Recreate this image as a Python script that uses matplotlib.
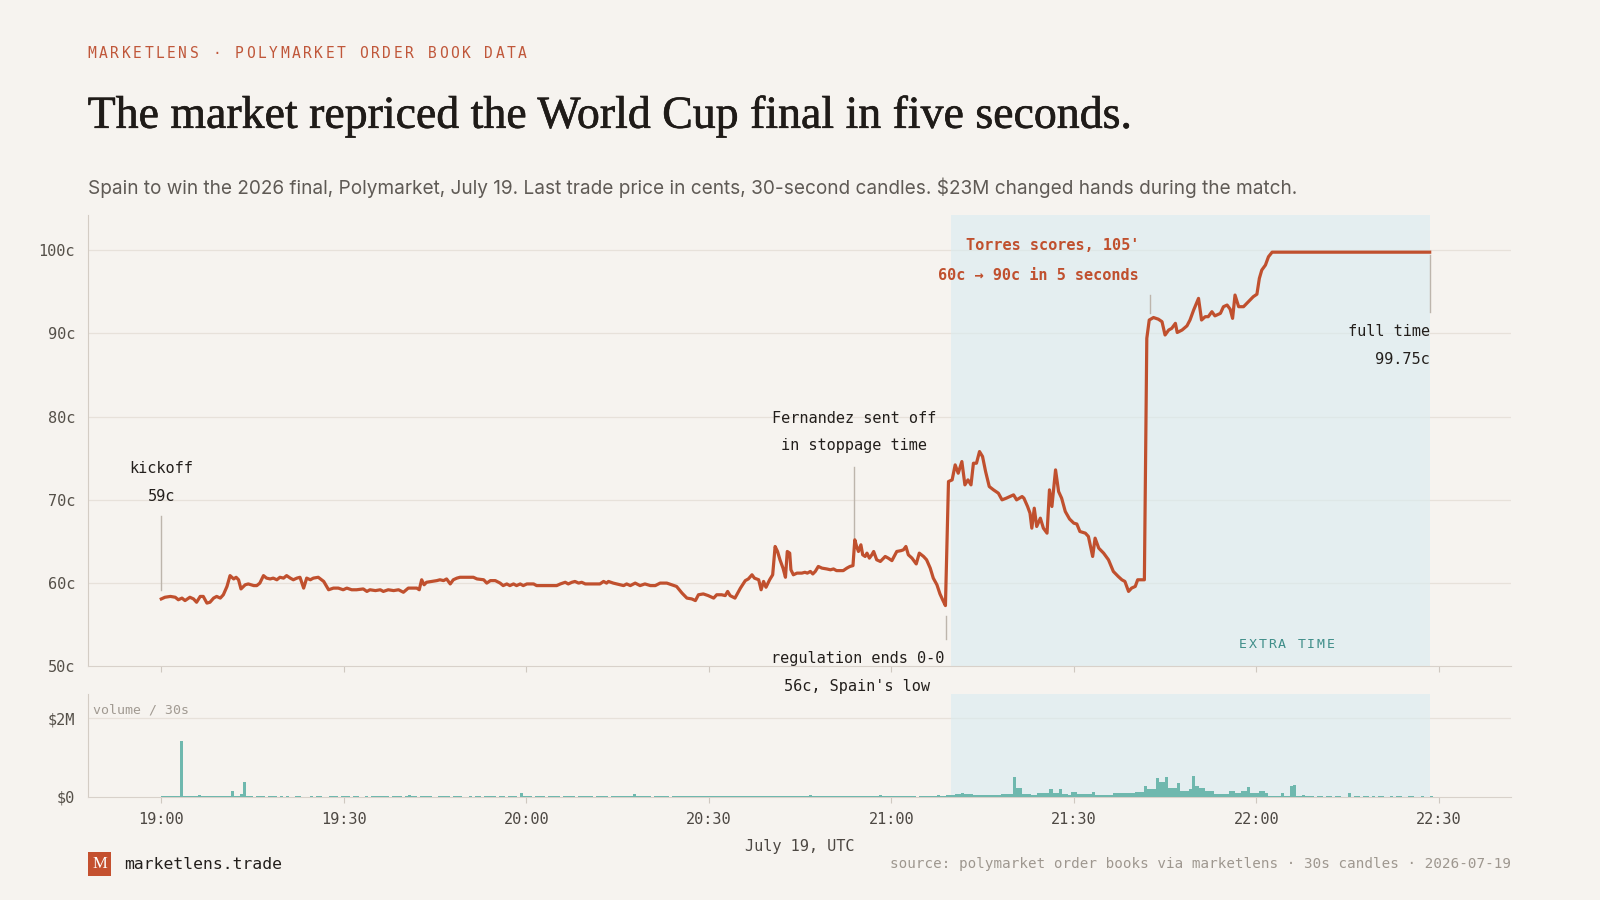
import numpy as np
import matplotlib.pyplot as plt
import matplotlib.patheffects as pe
from matplotlib.patches import Rectangle

# ---- data (minutes after 19:00 UTC) ----
price_t = [0.0, 0.6, 1.5, 2.3, 2.8, 3.4, 3.9, 4.7, 5.3, 5.8, 6.4, 6.9, 7.5, 8.0, 8.6, 9.1, 9.7, 10.2,
           10.8, 11.3, 11.9, 12.3, 12.7, 13.1, 13.8, 14.3, 15.2, 15.7, 16.2, 16.8, 17.3, 17.9, 18.4,
           19.0, 19.5, 20.1, 20.6, 21.2, 21.7, 22.3, 22.8, 23.4, 23.9, 24.5, 25.0, 25.8, 26.7, 27.5,
           28.3, 29.1, 29.9, 30.5, 31.3, 32.1, 33.2, 33.8, 34.3, 35.2, 36.0, 36.5, 37.3, 38.2, 39.0,
           39.8, 40.6, 41.5, 42.0, 42.4, 42.8, 43.2, 43.6, 44.5, 45.3,
           45.8, 46.4, 46.9, 47.5, 48.0, 48.6, 49.1, 50.2, 51.3, 51.9, 53.0, 53.5, 54.1, 54.9, 55.7,
           56.2, 56.8, 57.3, 57.9, 58.4, 59.0, 59.5, 60.1, 61.2, 61.7, 63.4, 65.0, 65.6, 66.4, 66.9,
           67.5, 68.0, 68.6, 69.1, 69.7, 71.0, 72.1, 72.7, 73.2, 73.5, 74.3, 75.4, 76.0, 76.5, 77.1,
           77.9, 78.7, 79.5, 80.4, 81.2, 82.0, 83.1, 83.9, 84.7, 85.6, 86.4, 87.2, 87.8, 88.3, 89.1,
           89.9, 90.8, 91.3, 92.1, 92.7, 93.1, 93.5, 94.3,
           95.2, 96.0, 96.5, 97.1, 97.5, 98.2, 98.6, 99.0, 99.4, 100.0, 100.5, 100.9, 101.3, 101.7,
           102.2, 102.6, 102.9, 103.3, 103.5, 103.9, 104.5, 105.3, 105.8, 106.2, 106.7, 107.1, 107.5,
           108.0, 108.6, 109.4, 110.0, 110.5, 111.0, 112.1, 112.7, 113.2, 113.7, 114.0, 114.3, 114.6,
           115.0, 115.3, 115.7, 116.0, 116.4, 116.8, 117.1, 117.6, 118.2, 119.0, 119.5, 120.1, 120.9,
           121.6, 122.0, 122.4, 122.8, 123.4, 124.1, 124.6, 125.3, 125.8, 126.4, 126.9, 127.5,
           128.0, 128.5, 128.9, 129.4, 130.0, 130.5, 131.0, 131.6, 132.1, 132.6, 133.1, 133.5, 134.0,
           134.5, 135.0, 135.5, 136.1, 136.8, 137.6, 138.2, 138.9, 139.5, 140.1, 140.6, 141.5, 141.8,
           142.4, 142.8, 143.1, 143.5, 143.9, 144.5, 145.0, 145.6, 146.0, 146.4, 147.0, 147.5, 148.0,
           148.6, 149.3, 150.0, 150.5, 151.0, 151.9, 152.4, 153.1, 153.5, 154.1, 154.9, 155.7,
           156.5, 157.3, 157.9, 158.4, 159.0, 159.5, 160.1, 160.5, 160.9, 161.6, 162.0, 162.4, 163.1,
           163.9, 164.5, 165.0, 165.6, 166.1, 166.7, 167.0, 167.8, 168.6, 169.1, 169.7, 170.5, 171.0,
           171.6, 172.1, 172.7, 173.2, 174.1, 174.6, 175.2, 175.7, 176.1, 176.5, 177.1, 177.9, 178.7,
           179.5, 180.1, 180.5, 180.9, 181.5, 182.0, 182.6, 208.5]
price_c = [58.1, 58.3, 58.4, 58.3, 58.0, 58.2, 57.9, 58.3, 58.1, 57.7, 58.4, 58.4, 57.6, 57.7, 58.2, 58.4, 58.2, 58.6,
           59.6, 60.9, 60.5, 60.7, 60.4, 59.3, 59.8, 59.9, 59.7, 59.7, 60.0, 60.9, 60.6, 60.5, 60.6,
           60.4, 60.7, 60.6, 60.9, 60.6, 60.4, 60.6, 60.7, 59.4, 60.6, 60.4, 60.6, 60.7, 60.2, 59.2,
           59.4, 59.4, 59.2, 59.4, 59.2, 59.2, 59.3, 59.0, 59.2, 59.1, 59.2, 59.0, 59.2, 59.1, 59.2,
           58.9, 59.4, 59.4, 59.4, 59.2, 60.4, 59.8, 60.1, 60.2, 60.3,
           60.4, 60.3, 60.5, 59.9, 60.4, 60.6, 60.7, 60.7, 60.7, 60.5, 60.4, 60.0, 60.3, 60.3, 60.0,
           59.7, 59.9, 59.7, 59.9, 59.7, 59.9, 59.7, 59.9, 59.9, 59.7, 59.7, 59.7, 59.9, 60.1, 59.9,
           60.1, 60.2, 60.0, 60.1, 59.9, 59.9, 59.9, 60.2, 60.0, 60.2, 60.0, 59.8, 59.7, 59.9, 59.7,
           60.0, 59.7, 59.9, 59.7, 59.7, 60.0, 60.0, 59.8, 59.6, 58.8, 58.2, 58.1, 57.9, 58.6, 58.7,
           58.5, 58.2, 58.6, 58.6, 58.5, 59.0, 58.5, 58.2,
           59.4, 60.3, 60.5, 61.0, 60.6, 60.4, 59.2, 60.2, 59.5, 60.4, 61.0, 64.4, 63.8, 62.8,
           61.8, 60.7, 63.8, 63.6, 61.6, 61.0, 61.2, 61.2, 61.3, 61.2, 61.4, 61.1, 61.4,
           62.0, 61.8, 61.7, 61.6, 61.7, 61.5, 61.5, 61.8, 62.0, 62.1, 65.2, 64.4, 63.8,
           64.6, 63.4, 63.2, 63.6, 63.0, 63.4, 63.8, 62.8, 62.6, 63.2, 63.0, 62.7, 63.8,
           63.9, 64.0, 64.4, 63.4, 63.0, 62.3, 63.6, 63.2, 62.8, 61.8, 60.6, 59.8,
           58.7, 57.9, 57.3, 72.2, 72.4, 74.2, 73.2, 74.6, 71.8, 72.4, 71.8, 74.4, 74.4,
           75.8, 75.2, 73.4, 71.6, 71.2, 70.8, 70.0, 70.2, 70.4, 70.6, 70.0, 70.4, 70.2,
           69.2, 68.4, 66.6, 69.0, 66.8, 67.8, 66.6, 66.0, 71.2, 69.2, 73.6, 71.0, 70.2,
           68.6, 67.7, 67.2, 67.1, 66.2, 66.0, 65.6, 63.2, 65.4, 64.2, 63.6, 62.8,
           61.4, 60.8, 60.4, 60.2, 59.0, 59.4, 59.6, 60.4, 60.4, 60.4, 89.4, 91.6, 91.9,
           91.7, 91.4, 89.8, 90.4, 90.6, 91.2, 90.1, 90.4, 90.9, 91.6, 92.8, 94.2, 91.6,
           92.0, 92.0, 92.6, 92.1, 92.4, 93.2, 93.4, 92.9, 91.8, 94.6, 93.2, 93.2, 93.8,
           94.4, 94.7, 96.6, 97.6, 98.2, 99.2, 99.75, 99.75]

# volume per 30s candle, $M, one row = 10 minutes from 19:00
vol_rows = [
    [0.02, 0.02, 0.03, 0.02, 0.02, 0.03, 1.41, 0.02, 0.02, 0.03, 0.02, 0.02, 0.04, 0.03, 0.02, 0.03, 0.02, 0.03, 0.02, 0.02],
    [0.03, 0.02, 0.03, 0.14, 0.03, 0.02, 0.08, 0.38, 0.03, 0.02, 0.00, 0.02, 0.02, 0.02, 0.00, 0.02, 0.02, 0.02, 0.00, 0.02],
    [0.01, 0.02, 0.00, 0.01, 0.02, 0.02, 0.00, 0.01, 0.01, 0.02, 0.00, 0.02, 0.03, 0.01, 0.00, 0.02, 0.02, 0.02, 0.01, 0.02],
    [0.02, 0.02, 0.01, 0.02, 0.02, 0.00, 0.00, 0.02, 0.00, 0.02, 0.02, 0.03, 0.02, 0.02, 0.02, 0.01, 0.02, 0.02, 0.02, 0.01],
    [0.02, 0.06, 0.02, 0.02, 0.01, 0.02, 0.02, 0.02, 0.02, 0.01, 0.00, 0.02, 0.02, 0.02, 0.02, 0.01, 0.02, 0.02, 0.02, 0.00],
    [0.00, 0.02, 0.00, 0.02, 0.02, 0.01, 0.02, 0.02, 0.02, 0.02, 0.01, 0.02, 0.02, 0.00, 0.02, 0.02, 0.02, 0.01, 0.10, 0.02],
    [0.02, 0.02, 0.00, 0.02, 0.02, 0.02, 0.01, 0.02, 0.02, 0.02, 0.02, 0.00, 0.02, 0.02, 0.02, 0.02, 0.01, 0.02, 0.02, 0.02],
    [0.02, 0.02, 0.00, 0.02, 0.02, 0.02, 0.02, 0.01, 0.02, 0.02, 0.02, 0.02, 0.02, 0.02, 0.02, 0.07, 0.02, 0.02, 0.02, 0.02],
    [0.02, 0.00, 0.02, 0.02, 0.02, 0.02, 0.02, 0.00, 0.02, 0.02, 0.02, 0.02, 0.02, 0.02, 0.02, 0.02, 0.02, 0.02, 0.02, 0.02],
    [0.02, 0.02, 0.02, 0.02, 0.02, 0.02, 0.03, 0.02, 0.02, 0.02, 0.02, 0.03, 0.02, 0.02, 0.02, 0.02, 0.02, 0.02, 0.02, 0.02],
    [0.02, 0.03, 0.02, 0.03, 0.02, 0.02, 0.03, 0.03, 0.02, 0.03, 0.03, 0.02, 0.03, 0.04, 0.03, 0.02, 0.03, 0.03, 0.02, 0.03],
    [0.03, 0.02, 0.03, 0.03, 0.02, 0.03, 0.03, 0.02, 0.03, 0.03, 0.02, 0.03, 0.03, 0.02, 0.03, 0.03, 0.04, 0.03, 0.02, 0.03],
    [0.03, 0.02, 0.03, 0.03, 0.02, 0.02, 0.03, 0.02, 0.00, 0.02, 0.02, 0.03, 0.02, 0.03, 0.03, 0.04, 0.03, 0.03, 0.04, 0.05],
    [0.06, 0.08, 0.08, 0.11, 0.07, 0.07, 0.07, 0.06, 0.04, 0.04, 0.04, 0.04, 0.06, 0.06, 0.06, 0.06, 0.07, 0.07, 0.07, 0.07],
    [0.50, 0.23, 0.23, 0.08, 0.08, 0.08, 0.04, 0.04, 0.10, 0.10, 0.10, 0.10, 0.21, 0.10, 0.10, 0.21, 0.08, 0.08, 0.04, 0.13],
    [0.13, 0.08, 0.08, 0.08, 0.08, 0.08, 0.12, 0.06, 0.06, 0.06, 0.06, 0.06, 0.06, 0.09, 0.09, 0.09, 0.09, 0.09, 0.09, 0.09],
    [0.13, 0.13, 0.13, 0.27, 0.21, 0.21, 0.21, 0.48, 0.38, 0.38, 0.50, 0.24, 0.24, 0.24, 0.35, 0.14, 0.14, 0.14, 0.19, 0.52],
    [0.27, 0.23, 0.23, 0.16, 0.16, 0.16, 0.08, 0.08, 0.08, 0.08, 0.08, 0.14, 0.14, 0.10, 0.10, 0.16, 0.16, 0.26, 0.10, 0.10],
    [0.10, 0.16, 0.16, 0.09, 0.025, 0.025, 0.025, 0.025, 0.11, 0.03, 0.03, 0.28, 0.31, 0.02, 0.02, 0.04, 0.02, 0.02, 0.02, 0.00],
    [0.02, 0.02, 0.00, 0.02, 0.02, 0.00, 0.02, 0.02, 0.00, 0.00, 0.09, 0.00, 0.02, 0.02, 0.00, 0.02, 0.02, 0.00, 0.02, 0.00],
    [0.02, 0.02, 0.00, 0.00, 0.02, 0.00, 0.02, 0.02, 0.00, 0.00, 0.02, 0.02, 0.00, 0.00, 0.02, 0.00, 0.00, 0.02],
]
volume = [v for row in vol_rows for v in row]
vol_t = [i * 0.5 for i in range(len(volume))]

extra_time = (129.75, 208.5)
xticks = [0, 30, 60, 90, 120, 150, 180, 210]
xlabels = ["19:00", "19:30", "20:00", "20:30", "21:00", "21:30", "22:00", "22:30"]
yticks = [50, 60, 70, 80, 90, 100]

# ---- style ----
BG = "#f6f3ef"
RED = "#c0502e"
TEAL = "#6fb8ae"
SHADE = "#d9ecf1"
GRID = "#e7e1da"
MONO = "DejaVu Sans Mono"
INK = "#231f1c"

fig = plt.figure(figsize=(16, 9), dpi=100, facecolor=BG)

ax = fig.add_axes([0.0548, 0.2596, 0.8897, 0.5011], facecolor=BG)
axv = fig.add_axes([0.0548, 0.1145, 0.8897, 0.1145], facecolor=BG)

for a in (ax, axv):
    a.set_xlim(-12.1, 221.9)
    a.axvspan(*extra_time, color=SHADE, alpha=0.6, lw=0, zorder=0.6)
    for s in ("top", "right"):
        a.spines[s].set_visible(False)
    a.spines["left"].set_color("#d3ccc4")
    a.spines["bottom"].set_color("#d8d1ca")
    a.set_xticks(xticks)
    a.tick_params(axis="x", length=4, color="#cfc8c0", width=0.8)
    a.tick_params(axis="y", length=0, pad=9, labelsize=11, labelcolor="#555049")

# price panel
ax.set_ylim(50, 104.17)
ax.set_yticks(yticks)
ax.set_yticklabels([f"{v}c" for v in yticks], family=MONO)
for v in yticks[1:]:
    ax.axhline(v, color=GRID, lw=0.9, zorder=0.5)
ax.tick_params(axis="x", labelbottom=False)
ax.plot(price_t, price_c, color=RED, lw=2.3, solid_joinstyle="round", zorder=3)

# annotations
lead = dict(color="#bdb5ac", lw=1, zorder=2)
ann = dict(family=MONO, fontsize=11, color=INK, ha="center", va="center", zorder=4)
ax.plot([0, 0], [59.2, 68.1], **lead)
ax.text(0, 73.8, "kickoff", **ann)
ax.text(0, 70.4, "59c", **ann)

ax.plot([113.9, 113.9], [65.1, 73.9], **lead)
ax.text(113.9, 79.8, "Fernandez sent off", **ann)
ax.text(113.9, 76.5, "in stoppage time", **ann)

ax.plot([128.95, 128.95], [53.3, 56.0], **lead)
ax.text(114.4, 51.0, "regulation ends 0-0", clip_on=False, **ann)
ax.text(114.4, 47.6, "56c, Spain's low", clip_on=False, **ann)

ax.plot([162.5, 162.5], [92.4, 94.6], **lead)
red_ann = dict(family=MONO, fontsize=11, color=RED, ha="right", va="center",
               fontweight="bold", zorder=4)
ax.text(160.7, 100.5, "Torres scores, 105'", **red_ann)
ax.text(160.7, 96.9, "60c \u2192 90c in 5 seconds", **red_ann)

ax.plot([208.5, 208.5], [92.6, 99.4], **lead)
ax.text(208.5, 90.2, "full time", family=MONO, fontsize=11, color=INK, ha="right", va="center")
ax.text(208.5, 86.9, "99.75c", family=MONO, fontsize=11, color=INK, ha="right", va="center")

et = "EXTRA TIME"
step = 1.6
for i, ch in enumerate(et):
    ax.text(185.0 + (i - (len(et) - 1) / 2) * step, 52.6, ch, family=MONO, fontsize=9.5,
            color="#3f8e89", ha="center", va="center", zorder=4)

# volume panel
axv.set_ylim(0, 2.62)
axv.set_yticks([0, 2])
axv.set_yticklabels(["$0", "$2M"], family=MONO)
axv.axhline(2, color=GRID, lw=0.9, zorder=0.5)
axv.bar(vol_t, volume, width=0.5, align="edge", color=TEAL, lw=0, zorder=3)
axv.set_xticklabels(xlabels, family=MONO, fontsize=11, color="#4d4843")
axv.tick_params(axis="x", pad=7)
axv.text(0.004, 0.84, "volume / 30s", transform=axv.transAxes, family=MONO, fontsize=9.5,
         color="#a19a92", ha="left", va="center")

# header
hdr = "MARKETLENS \u00b7 POLYMARKET ORDER BOOK DATA"
for i, ch in enumerate(hdr):
    fig.text(0.0548 + i * 0.00708, 0.941, ch, family=MONO, fontsize=10.5, color="#c0573a",
             ha="left", va="center")
fig.text(0.0548, 0.858, "The market repriced the World Cup final in five seconds.",
         family="Liberation Serif", fontsize=33, color="#1f1b18", ha="left", va="baseline",
         path_effects=[pe.withStroke(linewidth=0.45, foreground="#1f1b18")])
fig.text(0.0548, 0.7846, "Spain to win the 2026 final, Polymarket, July 19. Last trade price in cents, "
         "30-second candles. $23M changed hands during the match.",
         family="Inter", fontsize=13.7, color="#5f5a55", ha="left", va="baseline")

# footer
fig.text(0.5, 0.059, "July 19, UTC", family=MONO, fontsize=11, color="#4d4843", ha="center", va="center")
fig.add_artist(Rectangle((0.0548, 0.0272), 0.01467, 0.0261, transform=fig.transFigure,
                         facecolor="#c4502f", edgecolor="none"))
fig.text(0.0548 + 0.01467 / 2, 0.0272 + 0.0261 / 2, "M", family="Liberation Serif", fontsize=12,
         color="white", ha="center", va="center")
fig.text(0.0778, 0.0397, "marketlens.trade", family=MONO, fontsize=11.8, color=INK, ha="left", va="center")
fig.text(0.9445, 0.0397, "source: polymarket order books via marketlens \u00b7 30s candles \u00b7 2026-07-19",
         family=MONO, fontsize=10.3, color="#9e978f", ha="right", va="center")

fig.savefig("out.png", dpi=100, facecolor=BG)
